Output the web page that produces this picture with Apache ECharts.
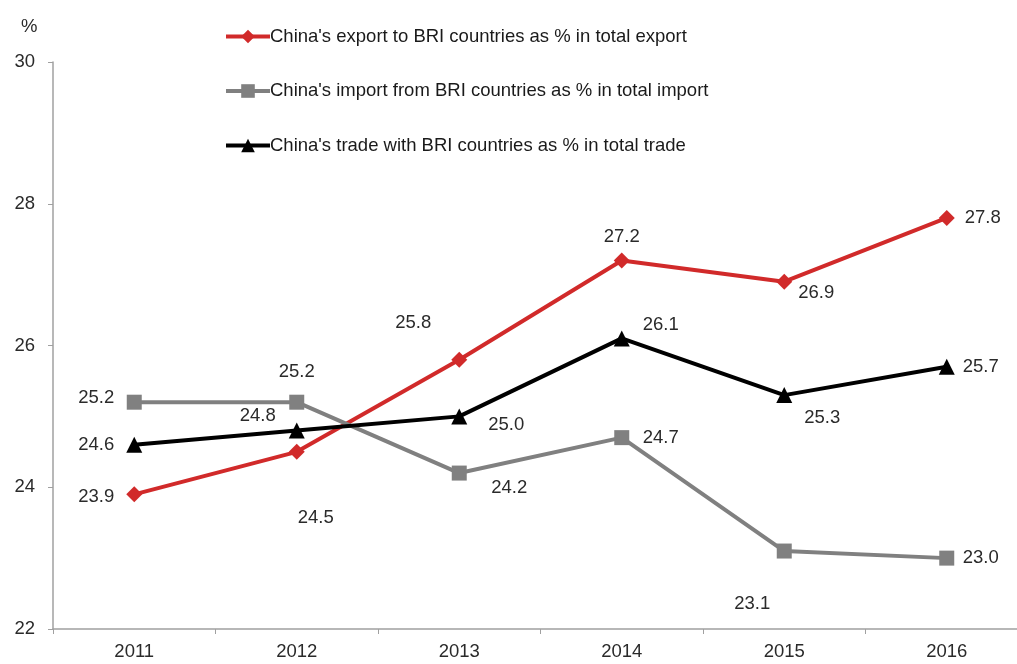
<!DOCTYPE html>
<html>
<head>
<meta charset="utf-8">
<script src="https://cdn.jsdelivr.net/npm/echarts@6/dist/echarts.min.js"></script>
<style>html,body{margin:0;padding:0;background:#fff;overflow:hidden}#c{width:1028px;height:664px}</style>
</head>
<body>
<div id="c"></div>
<script>
const years = ['2011','2012','2013','2014','2015','2016'];
const exportShare = [23.9, 24.5, 25.8, 27.2, 26.9, 27.8];
const importShare = [25.2, 25.2, 24.2, 24.7, 23.1, 23.0];
const tradeShare = [24.6, 24.8, 25.0, 26.1, 25.3, 25.7];
const seriesNames = [
  "China's export to BRI countries as % in total export",
  "China's import from BRI countries as % in total import",
  "China's trade with BRI countries as % in total trade"
];
// label offsets (styling, px) relative to each point
const exportLabelOffsets = [[-38,3],[19,66],[-46,-37],[0,-24],[32,11],[36,0]];
const importLabelOffsets = [[-38,-4],[0,-30],[50,15],[39,0],[-32,53],[34,0]];
const tradeLabelOffsets = [[-38,0],[-39,-15],[47,9],[39,-14],[38,23],[34,0]];

const font = 'Liberation Sans, Arial, sans-serif';
function mk(vals, offs) {
  return vals.map((v, i) => ({ value: v, label: { offset: offs[i] } }));
}
function series(name, vals, offs, color, symbol, size) {
  return {
    name: name, type: 'line', data: mk(vals, offs),
    symbol: symbol, symbolSize: size,
    lineStyle: { color: color, width: 4 },
    itemStyle: { color: color },
    label: {
      show: true, position: 'inside', color: '#2a2a2a', fontSize: 18.5, fontFamily: font,
      formatter: p => p.value.toFixed(1)
    },
    emphasis: { disabled: true },
    animation: false
  };
}
const chart = echarts.init(document.getElementById('c'));
chart.setOption({
  backgroundColor: '#fff',
  animation: false,
  title: { text: '%', left: 16, top: 12, textStyle: { fontSize: 18.5, fontWeight: 'normal', color: '#2a2a2a', fontFamily: font } },
  legend: {
    orient: 'vertical', left: 219, top: 22, itemGap: 35.5,
    itemWidth: 44, itemHeight: 17,
    lineStyle: { width: 4 },
    textStyle: { fontSize: 18.5, color: '#1a1a1a', fontFamily: font, padding: [0,0,0,-5] },
    data: seriesNames
  },
  grid: { left: 53, right: 0, top: 62, bottom: 35 },
  xAxis: {
    type: 'category', data: years, boundaryGap: true,
    axisLine: { lineStyle: { color: '#a0a0a0', width: 1.5 } },
    axisTick: { show: true, length: 5, lineStyle: { color: '#a0a0a0' } },
    axisLabel: { fontSize: 18.5, color: '#2a2a2a', fontFamily: font, margin: 13 }
  },
  yAxis: {
    type: 'value', min: 22, max: 30, interval: 2,
    splitLine: { show: false },
    axisLine: { show: true, lineStyle: { color: '#a0a0a0', width: 1.5 } },
    axisTick: { show: true, length: 5, lineStyle: { color: '#a0a0a0' } },
    axisLabel: { fontSize: 18.5, color: '#2a2a2a', fontFamily: font, margin: 18 }
  },
  series: [
    series(seriesNames[0], exportShare, exportLabelOffsets, '#d12a2a', 'diamond', 16),
    series(seriesNames[1], importShare, importLabelOffsets, '#808080', 'rect', 15),
    series(seriesNames[2], tradeShare, tradeLabelOffsets, '#000000', 'triangle', 16)
  ]
});
</script>
</body>
</html>
